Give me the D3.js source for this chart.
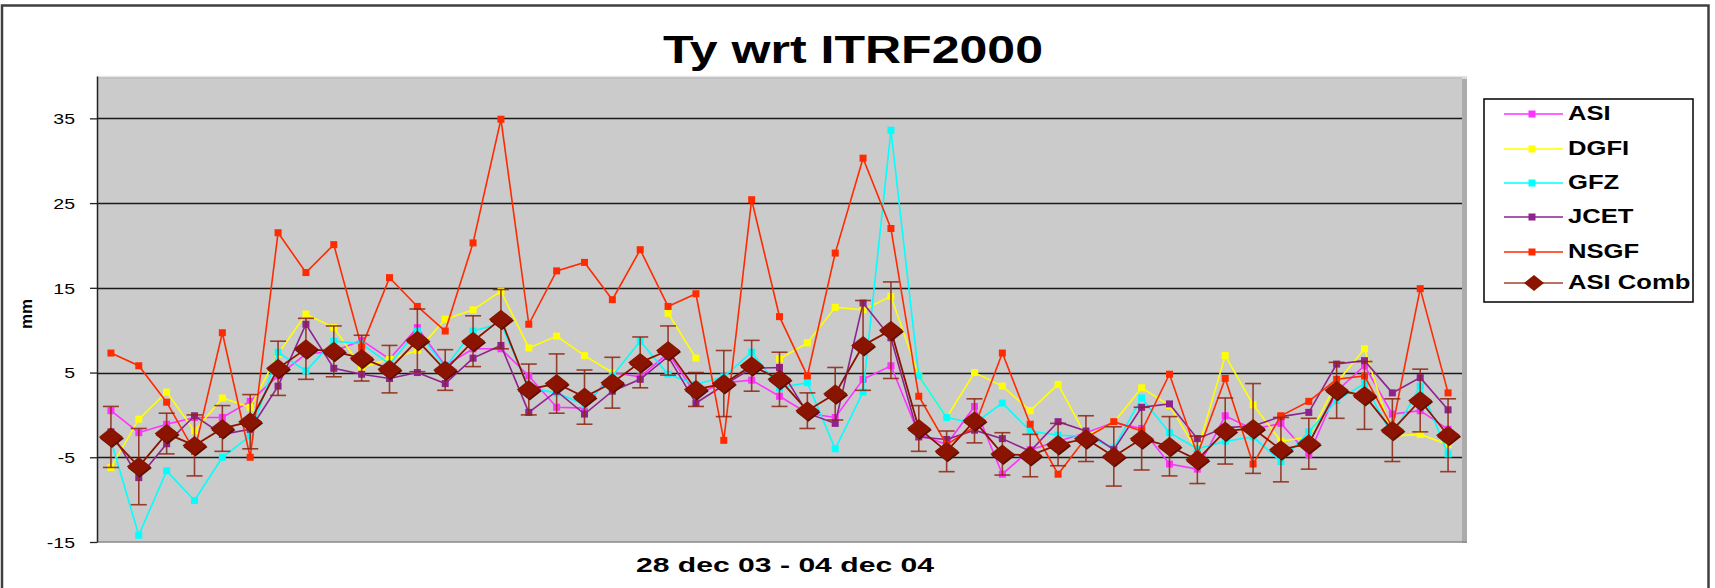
<!DOCTYPE html>
<html><head><meta charset="utf-8">
<script src="https://cdn.jsdelivr.net/npm/d3@7"></script>
<style>
body{margin:0;background:#fff}
svg{display:block}
text{font-family:"Liberation Sans",Arial,sans-serif}
</style>
</head><body>
<svg id="c" width="1715" height="588"></svg>
<script>
// GPS weeks 28 dec 03 - 04 dec 04
const categories = ["1251","1252","1253","1254","1255","1256","1257","1258","1259","1260",
"1261","1262","1263","1264","1265","1266","1267","1268","1269","1270",
"1271","1272","1273","1274","1275","1276","1277","1278","1279","1280",
"1281","1282","1283","1284","1285","1286","1287","1288","1289","1290",
"1291","1292","1293","1294","1295","1296","1297","1298","1299"];

const asi = [0.5,-2.1,-1.1,-0.3,-0.3,1.6,4.6,7.2,7.5,8.8, 6.6,10.3,5.8,7.8,7.8,4.6,0.9,0.8,5.0,4.5,
 7.3,2.4,3.8,4.1,2.2,0.2,-0.3,4.2,5.8,-2.3, -3.5,1.0,-7.0,-4.1,-3.1,-2.1,-0.9,-1.6,-5.8,-6.4,
 -0.1,-1.7,-1.0,-4.7,2.8,5.8,0.1,0.5,-1.7];
const dgfi = [-6.2,-0.5,2.7,-1.9,2.0,0.9,7.2,11.9,10.3,5.6, 6.6,7.6,11.3,12.4,14.6,7.9,9.3,7.0,5.0,null,
 12.0,6.7,null,null,6.6,8.5,12.7,12.4,14.0,4.6, -0.3,5.0,3.4,0.5,3.6,-2.5,-0.9,3.2,1.1,-4.3,
 7.0,1.2,-3.1,-2.6,3.8,7.8,-2.5,-2.3,-3.5];
const gfz = [-3.0,-14.2,-6.6,-10.1,-5.0,-2.5,7.4,5.2,8.7,8.4, 6.0,9.9,5.6,9.9,10.8,3.2,2.6,1.2,4.6,8.7,
 4.8,3.6,4.5,7.4,3.2,3.8,-4.0,2.7,33.6,4.6, -0.3,-1.0,1.4,-1.9,-2.4,-2.5,-3.9,2.0,-2.1,-4.0,
 -3.1,-2.6,-5.5,-2.0,1.7,3.7,-2.5,3.4,-4.6];
const jcet = [-2.0,-7.4,-3.4,-0.1,-2.3,-1.7,3.4,10.7,5.5,4.8, 4.3,5.0,3.7,6.7,8.2,0.3,2.8,0.1,2.8,4.2,
 6.9,1.4,3.5,5.5,5.6,0.2,-1.0,13.2,9.1,-2.6, -2.9,-1.8,-2.8,-4.3,-0.8,-1.9,-4.1,0.9,1.3,-2.8,
 -1.5,-1.3,-0.2,0.3,6.0,6.4,2.6,4.4,0.6];
const nsgf = [7.3,5.8,1.5,-4.3,9.7,-5.0,21.5,16.8,20.1,8.0, 16.2,12.8,9.9,20.3,34.9,10.7,17.0,18.0,13.6,19.5,
 12.8,14.3,-3.0,25.4,11.6,4.6,19.1,30.3,22.0,2.2, -3.5,-1.4,7.3,-1.1,-7.0,-2.7,-0.8,-1.9,4.8,-4.7,
 4.3,-5.8,-0.1,1.6,4.2,4.6,-1.5,14.9,2.6];
const asiComb = [-2.6,-6.1,-2.2,-3.6,-1.6,-0.8,5.5,7.8,7.5,6.7, 5.4,8.8,5.3,8.7,11.3,3.0,3.7,2.1,3.8,6.2,
 7.6,3.0,3.7,5.8,4.2,0.5,2.5,8.2,10.0,-1.6, -4.3,-0.7,-4.6,-4.8,-3.5,-2.8,-4.9,-2.8,-3.7,-5.3,
 -1.9,-1.6,-4.1,-3.4,2.9,2.3,-1.8,1.7,-2.4];
const asiCombErr = [3.6,4.5,2.4,3.6,2.7,3.2,3.2,3.6,3.0,2.7, 2.8,3.7,2.4,3.0,3.5,3.0,3.5,3.2,3.0,3.0,
 2.9,2.0,3.9,3.0,3.2,2.1,3.1,5.3,5.7,2.7, 2.4,2.6,2.5,2.5,2.5,2.7,3.5,3.7,3.5,2.8,
 3.9,5.3,3.8,3.0,3.3,4.0,3.7,3.7,4.3];

const yTicks = [-15,-5,5,15,25,35];
const yTickLabels = ["-15","-5","5","15","25","35"];
const seriesNames = ["ASI","DGFI","GFZ","JCET","NSGF"];
const seriesColors = ["#ff33ff","#ffff00","#00ffff","#8e238e","#ff2a00"];
const seriesValues = [asi,dgfi,gfz,jcet,nsgf];
const combName = "ASI Comb";
const combColor = "#8b1400";
const titleText = "Ty wrt ITRF2000";
const xTitle = "28 dec 03 - 04 dec 04";
const yTitle = "mm";

const svg = d3.select("#c");
const X0 = 97, X1 = 1462, Y0 = 76, Y1 = 542;
const x = d3.scalePoint().domain(categories).range([X0, X1]).padding(0.5);
const y = d3.scaleLinear().domain([-15, 40]).range([Y1, Y0]);

// outer frame
svg.append("rect").attr("x",0).attr("y",0).attr("width",1715).attr("height",588).attr("fill","#fff");
svg.append("rect").attr("x",2).attr("y",5.5).attr("width",1706.5).attr("height",600)
  .attr("fill","none").attr("stroke","#404040").attr("stroke-width",2.5);

// title
svg.append("text").attr("x",853).attr("y",63).attr("text-anchor","middle")
  .attr("font-size",39).attr("font-weight","bold").attr("fill","#000")
  .attr("textLength",380).attr("lengthAdjust","spacingAndGlyphs").text(titleText);

// plot area
svg.append("rect").attr("x",X1).attr("y",Y0+3).attr("width",5).attr("height",Y1-Y0-2).attr("fill","#ababab");
svg.append("rect").attr("x",X0).attr("y",Y0).attr("width",X1-X0).attr("height",Y1-Y0).attr("fill","#cbcbcb");
svg.append("line").attr("x1",X0).attr("x2",X1+5).attr("y1",Y0+0.5).attr("y2",Y0+0.5).attr("stroke","#e6e6e6").attr("stroke-width",1.5);
svg.append("line").attr("x1",X0).attr("x2",X1+5).attr("y1",Y0+2).attr("y2",Y0+2).attr("stroke","#b8b8b8").attr("stroke-width",1);
svg.append("line").attr("x1",X0).attr("x2",X1+5).attr("y1",Y1).attr("y2",Y1).attr("stroke","#8a8a8a").attr("stroke-width",1.5);

// gridlines
svg.append("g").selectAll("line").data(yTicks.filter(t=>t>-15)).join("line")
  .attr("x1",X0).attr("x2",X1).attr("y1",d=>Math.round(y(d))+0.5).attr("y2",d=>Math.round(y(d))+0.5)
  .attr("stroke","#1a1a1a").attr("stroke-width",1.4);

// y axis
const yAxis = svg.append("g").attr("transform",`translate(${X0},0)`)
  .call(d3.axisLeft(y).tickValues(yTicks).tickSize(7).tickSizeOuter(0)
    .tickFormat(d=>yTickLabels[yTicks.indexOf(d)]));
yAxis.select(".domain").attr("stroke","#222").attr("stroke-width",1.5);
yAxis.selectAll(".tick line").attr("stroke","#222").attr("stroke-width",1.3);
yAxis.selectAll(".tick text").attr("x",0).attr("dy","0.35em")
  .attr("transform","translate(-22,0) scale(1.3,1)")
  .attr("font-size",15).attr("fill","#000").attr("font-family",'"Liberation Sans",Arial,sans-serif');

// y title
svg.append("text").attr("transform","translate(32,314) rotate(-90)").attr("text-anchor","middle")
  .attr("font-size",17).attr("font-weight","bold").text(yTitle);

// x title
svg.append("text").attr("x",785).attr("y",572).attr("text-anchor","middle")
  .attr("font-size",21).attr("font-weight","bold")
  .attr("textLength",298).attr("lengthAdjust","spacingAndGlyphs").text(xTitle);

// series
const plot = svg.append("g");
seriesValues.forEach((vals,si)=>{
  const data = vals.map((v,i)=>({c:categories[i], v}));
  const line = d3.line().defined(d=>d.v!=null).x(d=>x(d.c)).y(d=>y(d.v));
  plot.append("path").datum(data).attr("d",line).attr("fill","none")
    .attr("stroke",seriesColors[si]).attr("stroke-width",1.6);
  plot.append("g").selectAll("rect").data(data.filter(d=>d.v!=null)).join("rect")
    .attr("x",d=>x(d.c)-3.5).attr("y",d=>y(d.v)-3.5).attr("width",7).attr("height",7)
    .attr("fill",seriesColors[si]);
});

// comb error bars
const comb = asiComb.map((v,i)=>({c:categories[i], v, e:asiCombErr[i]}));
const eb = plot.append("g").attr("stroke","#8e2410").attr("stroke-width",1.6).attr("stroke-opacity",0.85);
comb.forEach(d=>{
  const cx = x(d.c), t = y(d.v+d.e), b = y(d.v-d.e);
  eb.append("line").attr("x1",cx).attr("x2",cx).attr("y1",t).attr("y2",b);
  eb.append("line").attr("x1",cx-8).attr("x2",cx+8).attr("y1",t).attr("y2",t);
  eb.append("line").attr("x1",cx-8).attr("x2",cx+8).attr("y1",b).attr("y2",b);
});
plot.append("path").datum(comb).attr("d",d3.line().x(d=>x(d.c)).y(d=>y(d.v)))
  .attr("fill","none").attr("stroke",combColor).attr("stroke-width",1.8);
const diamond = (cx,cy,w,h)=>`M${cx-w},${cy}L${cx},${cy-h}L${cx+w},${cy}L${cx},${cy+h}Z`;
plot.append("g").selectAll("path").data(comb).join("path")
  .attr("d",d=>diamond(x(d.c)+1,y(d.v)+1.5,12,9.5)).attr("fill","#5e0d00");
plot.append("g").selectAll("path").data(comb).join("path")
  .attr("d",d=>diamond(x(d.c),y(d.v),12,9.5)).attr("fill",combColor);

// legend
const lg = svg.append("g");
lg.append("rect").attr("x",1484).attr("y",99).attr("width",209).attr("height",203)
  .attr("fill","#fff").attr("stroke","#000").attr("stroke-width",1.5);
const legendNames = seriesNames.concat([combName]);
const legendColors = seriesColors.concat([combColor]);
const legendY = [114,149,183,217,252,283];
legendNames.forEach((n,i)=>{
  const ly = legendY[i];
  lg.append("line").attr("x1",1504).attr("x2",1563).attr("y1",ly).attr("y2",ly)
    .attr("stroke",legendColors[i]).attr("stroke-width",i===5?2:1.8).attr("stroke-opacity",i===5?0.6:0.75);
  if(i<5){
    lg.append("rect").attr("x",1532-3.5).attr("y",ly-3.5).attr("width",7).attr("height",7).attr("fill",legendColors[i]);
  } else {
    lg.append("path").attr("d",diamond(1534,ly,10,8)).attr("fill",combColor);
  }
  lg.append("text").attr("x",0).attr("y",0)
    .attr("transform",`translate(1568,${ly+6}) scale(1.22,1)`)
    .attr("font-size",21).attr("font-weight","bold").text(n);
});
</script>
</body></html>
